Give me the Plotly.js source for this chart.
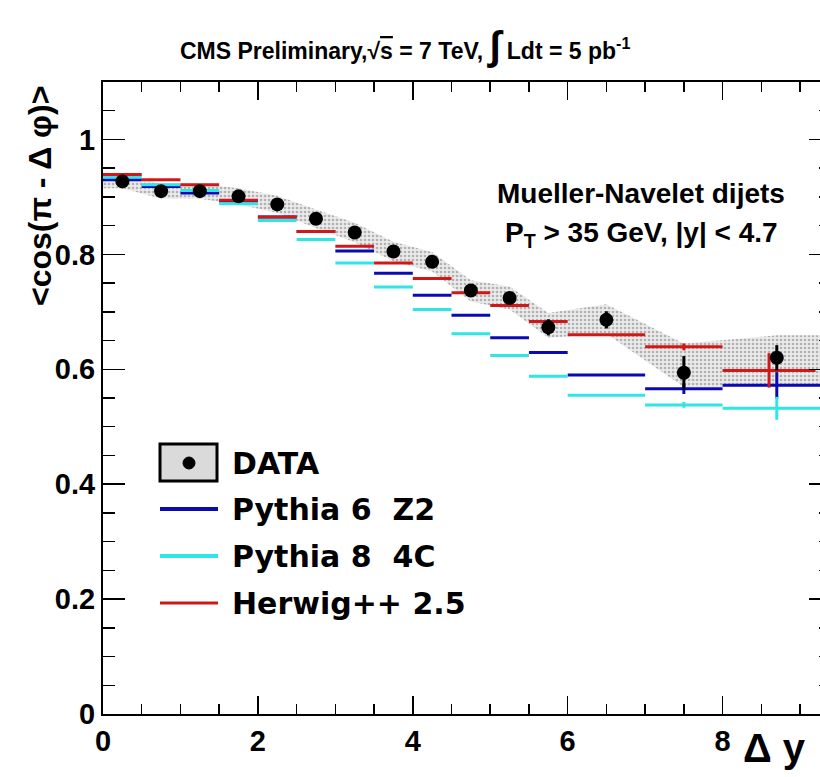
<!DOCTYPE html>
<html>
<head>
<meta charset="utf-8">
<script src="https://cdn.plot.ly/plotly-3.0.1.min.js"></script>
<style>
html,body{margin:0;padding:0;overflow:hidden;background:#fff;width:820px;height:777px;}
#plot{width:842px;height:777px;}
</style>
</head>
<body>
<div id="plot"></div>
<script>
// ---- data ----
const binCenters = [0.25,0.75,1.25,1.75,2.25,2.75,3.25,3.75,4.25,4.75,5.25,5.75,6.5,7.5,8.7];
const binHalfWidths = [0.25,0.25,0.25,0.25,0.25,0.25,0.25,0.25,0.25,0.25,0.25,0.25,0.5,0.5,0.7];
const dataValues = [0.927,0.910,0.910,0.901,0.887,0.862,0.838,0.805,0.787,0.737,0.724,0.673,0.686,0.594,0.620];
const dataErrors = [0.004,0.004,0.004,0.004,0.005,0.005,0.006,0.007,0.008,0.009,0.010,0.014,0.015,0.029,0.022];
const bandX  = [0,0.25,0.75,1.25,1.75,2.25,2.75,3.25,3.75,4.25,4.75,5.25,5.75,6.5,7.5,8.7,9.4];
const bandHi = [0.940,0.940,0.923,0.923,0.915,0.902,0.878,0.855,0.822,0.804,0.755,0.744,0.698,0.713,0.645,0.659,0.659];
const bandLo = [0.915,0.915,0.897,0.897,0.887,0.872,0.846,0.821,0.788,0.770,0.718,0.704,0.655,0.662,0.569,0.569,0.569];
const pythia6 = [0.930,0.918,0.907,0.893,0.865,0.840,0.806,0.767,0.729,0.694,0.655,0.629,0.590,0.566,0.572];
const pythia6Err = [0,0,0,0,0,0,0,0,0,0,0,0,0,0.009,0.023];
const pythia8 = [0.934,0.921,0.911,0.888,0.859,0.826,0.785,0.743,0.704,0.662,0.624,0.588,0.555,0.538,0.532];
const pythia8Err = [0,0,0,0,0,0,0,0,0,0,0,0,0,0.005,0.020];
const herwigCenters = [0.25,0.75,1.25,1.75,2.25,2.75,3.25,3.75,4.25,4.75,5.25,5.75,6.5,7.5,8.6];
const herwigHalfWidths = [0.25,0.25,0.25,0.25,0.25,0.25,0.25,0.25,0.25,0.25,0.25,0.25,0.5,0.5,0.6];
const herwig = [0.939,0.930,0.921,0.894,0.865,0.840,0.814,0.785,0.758,0.733,0.711,0.683,0.660,0.639,0.598];
const herwigErr = [0,0,0,0,0,0,0,0,0,0,0,0,0,0.006,0.030];
const xTickVals = [0,2,4,6,8];
const xTickText = ["0","2","4","6","8"];
const yTickVals = [0,0.2,0.4,0.6,0.8,1];
const yTickText = ["0","0.2","0.4","0.6","0.8","1"];
const legendNames = ["DATA","Pythia 6  Z2","Pythia 8  4C","Herwig++ 2.5"];

const BLUE = '#0a0ab4', CYAN = '#2ee6e6', RED = '#d01818';

// ---- geometry helpers (plot area in pixels) ----
const L = 103, T = 82, W = 728, H = 632;
const px = x => (x - L) / W;
const py = y => (T + H - y) / H;

function modelTrace(name, xs, xh, ys, ye, color, thick) {
  return {
    type: 'scatter', mode: 'markers', name: name, x: xs, y: ys,
    marker: {size: 1, color: color, opacity: 0},
    error_x: {type: 'data', array: xh, visible: true, color: color, thickness: thick, width: 0},
    error_y: {type: 'data', array: ye, visible: true, color: color, thickness: thick, width: 0},
    showlegend: false, hoverinfo: 'skip'
  };
}

const traces = [
  {type: 'scatter', mode: 'lines', x: bandX, y: bandLo, line: {width: 0}, showlegend: false, hoverinfo: 'skip'},
  {type: 'scatter', mode: 'lines', x: bandX, y: bandHi, line: {width: 0}, fill: 'tonexty',
   fillcolor: '#e2e2e2',
   fillpattern: {shape: '.', bgcolor: '#ebebeb', fgcolor: '#b2b2b2', size: 4, solidity: 0.35},
   showlegend: false, hoverinfo: 'skip'},
  modelTrace(legendNames[1], binCenters, binHalfWidths, pythia6, pythia6Err, BLUE, 3),
  modelTrace(legendNames[2], binCenters, binHalfWidths, pythia8, pythia8Err, CYAN, 3),
  modelTrace(legendNames[3], herwigCenters, herwigHalfWidths, herwig, herwigErr, RED, 3),
  {type: 'scatter', mode: 'markers', name: legendNames[0], x: binCenters, y: dataValues,
   marker: {size: 14, color: '#000'},
   error_y: {type: 'data', array: dataErrors, visible: true, color: '#000', thickness: 3, width: 0},
   showlegend: false}
];

const boldArial = {family: 'Liberation Sans, Arial, sans-serif', weight: 'bold', color: '#000'};
const tickFont = Object.assign({}, boldArial, {size: 29});

const annotations = [
  {xref: 'paper', yref: 'paper', x: px(405), y: py(46), xanchor: 'center', yanchor: 'middle', showarrow: false,
   text: 'CMS Preliminary,√<span style="text-decoration:overline">s</span> = 7 TeV, <span style="font-size:40px">∫</span> Ldt = 5 pb<sup>-1</sup>',
   font: {family: 'Liberation Sans Narrow, Liberation Sans, Arial, sans-serif', weight: 'bold', size: 23, color: '#000'}},
  {xref: 'paper', yref: 'paper', x: px(641), y: py(193), xanchor: 'center', yanchor: 'middle', showarrow: false,
   text: 'Mueller-Navelet dijets', font: Object.assign({}, boldArial, {size: 28})},
  {xref: 'paper', yref: 'paper', x: px(641), y: py(235), xanchor: 'center', yanchor: 'middle', showarrow: false,
   text: 'P<sub>T</sub> > 35 GeV, |y| < 4.7', font: Object.assign({}, boldArial, {size: 28})},
  {xref: 'paper', yref: 'paper', x: px(40), y: py(84), xanchor: 'center', yanchor: 'top', showarrow: false,
   textangle: -90, text: '<cos(π - Δ φ)>', font: Object.assign({}, boldArial, {size: 32})},
  {xref: 'paper', yref: 'paper', x: px(808), y: py(748), xanchor: 'right', yanchor: 'middle', showarrow: false,
   text: 'Δ y', font: Object.assign({}, boldArial, {size: 40})}
];

const legendRows = [463, 509, 556, 603];
const legendColors = [null, BLUE, CYAN, RED];
const legendWidths = [0, 4, 4, 3];
const shapes = [
  {type: 'rect', xref: 'paper', yref: 'paper', x0: px(160), x1: px(217), y0: py(444), y1: py(481),
   line: {color: '#000', width: 3}, fillcolor: '#dadada'},
  {type: 'circle', xref: 'paper', yref: 'paper', x0: px(183), x1: px(195), y0: py(457), y1: py(469),
   line: {color: '#000', width: 1}, fillcolor: '#000'}
];
for (let i = 0; i < legendNames.length; i++) {
  annotations.push({xref: 'paper', yref: 'paper', x: px(230), y: py(legendRows[i]), xanchor: 'left', yanchor: 'middle',
    showarrow: false, text: legendNames[i], font: {family: 'DejaVu Sans, sans-serif', weight: 'bold', size: 30, color: '#000'}});
  if (i > 0) shapes.push({type: 'line', xref: 'paper', yref: 'paper', x0: px(160), x1: px(218),
    y0: py(legendRows[i]), y1: py(legendRows[i]), line: {color: legendColors[i], width: legendWidths[i]}});
}

const layout = {
  width: 842, height: 777,
  margin: {l: L, r: 842 - L - W, t: T, b: 777 - T - H, pad: 0},
  paper_bgcolor: '#fff', plot_bgcolor: '#fff',
  showlegend: false,
  xaxis: {range: [0, 9.4], showgrid: false, zeroline: false, showline: true, linecolor: '#000', linewidth: 2,
    mirror: 'ticks', ticks: 'inside', ticklen: 18, tickwidth: 1.5, tickcolor: '#000',
    tickvals: xTickVals, ticktext: xTickText, tickfont: tickFont,
    minor: {dtick: 0.5, ticks: 'inside', ticklen: 10, tickwidth: 1.5, tickcolor: '#000', showgrid: false}},
  yaxis: {range: [0, 1.1], showgrid: false, zeroline: false, showline: true, linecolor: '#000', linewidth: 2,
    mirror: 'ticks', ticks: 'inside', ticklen: 22, tickwidth: 1.5, tickcolor: '#000',
    tickvals: yTickVals, ticktext: yTickText, tickfont: tickFont,
    minor: {dtick: 0.05, ticks: 'inside', ticklen: 12, tickwidth: 1.5, tickcolor: '#000', showgrid: false}},
  annotations: annotations,
  shapes: shapes
};

Plotly.newPlot('plot', traces, layout, {staticPlot: true, displayModeBar: false});
</script>
</body>
</html>
